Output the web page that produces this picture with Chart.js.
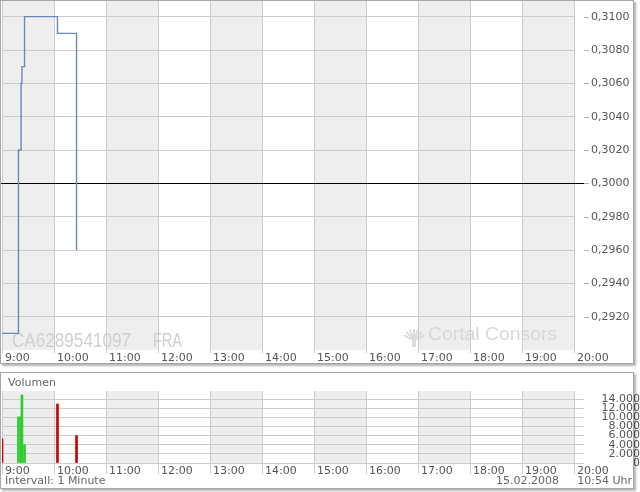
<!DOCTYPE html>
<html><head><meta charset="utf-8">
<script src="https://cdn.jsdelivr.net/npm/chart.js@4/dist/chart.umd.min.js"></script>
<style>
html,body{margin:0;padding:0;background:#fff;width:640px;height:492px;overflow:hidden;font-family:"DejaVu Sans",Verdana,sans-serif;}
canvas{position:absolute;left:0;}
#c1{top:0;} #c2{top:372px;}
.panel{position:absolute;border:1px solid #a6a6a6;box-shadow:2px 2px 2px rgba(0,0,0,0.3);pointer-events:none;}
#p1{left:0;top:0;width:632px;height:362px;}
#p2{left:0;top:372px;width:632px;height:115px;}
.t{position:absolute;font-size:11px;line-height:13px;color:#666;white-space:nowrap;}
</style></head><body>
<canvas id="c1" width="640" height="366"></canvas>
<canvas id="c2" width="640" height="120"></canvas>
<div class="panel" id="p1"></div>
<div class="panel" id="p2"></div>
<div class="t" style="left:8px;top:376px">Volumen</div>
<div class="t" style="left:5px;top:474px">Intervall: 1 Minute</div>
<div class="t" style="right:81px;top:474px">15.02.2008</div>
<div class="t" style="right:8px;top:474px">10:54 Uhr</div>
<script>
// ---- data ----
const hourLabels = ['9:00','10:00','11:00','12:00','13:00','14:00','15:00','16:00','17:00','18:00','19:00','20:00'];
const priceTimes = ['9:00','9:19','9:22','9:23','9:26','10:04','10:26'];
const priceValues = [0.2910, 0.3020, 0.3060, 0.3070, 0.3100, 0.3090, 0.2960];
const volumeValues = [5300, 10100, 10100, 14900, 4000, 12900, 6000];
const prevClose = 0.3000;
const priceTicks = [0.2920, 0.2940, 0.2960, 0.2980, 0.3000, 0.3020, 0.3040, 0.3060, 0.3080, 0.3100];
const volumeTicks = [0, 2000, 4000, 6000, 8000, 10000, 12000, 14000];
const priceRange = [0.2900, 0.3110];
const volumeRange = [0, 15750];
const isin = 'CA6289541097';
const exchange = 'FRA';

// ---- helpers ----
const toMin = s => { const [h, m] = s.split(':').map(Number); return h * 60 + m; };
const hourValues = hourLabels.map(toMin);
const xMin = hourValues[0], xMax = hourValues[hourValues.length - 1];
const fmtDE = v => String(v).replace(/\B(?=(\d{3})+(?!\d))/g, '.');
const GREEN = '#2ecc2e', RED = '#cc0000';
const volumeColors = priceValues.map((p, i) => p >= (i ? priceValues[i - 1] : prevClose) ? GREEN : RED);
const FONT = {family: 'DejaVu Sans', size: 11};
const TXT = '#555555';
const GRID = '#cccccc';

const bands = {
  id: 'bands',
  beforeDraw(chart) {
    const {ctx, chartArea: a, scales: {x}} = chart;
    ctx.save();
    ctx.fillStyle = '#eeeeee';
    for (let i = 0; i < hourValues.length - 1; i += 2) {
      const x0 = x.getPixelForValue(hourValues[i]), x1 = x.getPixelForValue(hourValues[i + 1]);
      ctx.fillRect(x0, a.top, x1 - x0, a.bottom - a.top);
    }
    ctx.restore();
  }
};

function fitText(ctx, text, x, y, width) {
  const w = ctx.measureText(text).width;
  ctx.save();
  ctx.translate(x, y);
  ctx.scale(width / w, 1);
  ctx.fillText(text, 0, 0);
  ctx.restore();
}

const watermark = {
  id: 'watermark',
  beforeDraw(chart) {
    const {ctx} = chart;
    ctx.save();
    ctx.fillStyle = '#d0d0d0';
    ctx.textBaseline = 'alphabetic';
    ctx.font = '20px "Liberation Sans", Arial, sans-serif';
    fitText(ctx, isin, 12, 347, 119);
    fitText(ctx, exchange, 153, 347, 29);
    ctx.fillStyle = '#d8d8d8';
    ctx.font = '19px "Liberation Sans", Arial, sans-serif';
    fitText(ctx, 'Cortal Consors', 428, 340, 129);
    // small logo mark
    ctx.strokeStyle = '#dcdcdc';
    ctx.lineWidth = 2;
    const cx = 414, cy = 333;
    for (let k = -3; k <= 3; k++) {
      const ang = -Math.PI / 2 + k * 0.35;
      ctx.beginPath();
      ctx.moveTo(cx + Math.cos(ang) * 3, cy + 8 + Math.sin(ang) * 3);
      ctx.lineTo(cx + Math.cos(ang) * 12, cy + 8 + Math.sin(ang) * 12);
      ctx.stroke();
    }
    ctx.fillStyle = '#dcdcdc';
    ctx.fillRect(cx - 2, cy + 4, 4, 10);
    ctx.restore();
  }
};

const refLine = {
  id: 'refLine',
  beforeDatasetsDraw(chart) {
    const {ctx, chartArea: a, scales: {y}} = chart;
    ctx.save();
    ctx.lineWidth = 1;
    ctx.strokeStyle = '#b0b0b0';
    for (const v of priceTicks) {
      const p = Math.round(y.getPixelForValue(v)) + 0.5;
      ctx.beginPath(); ctx.moveTo(a.right + 10, p); ctx.lineTo(a.right + 15, p); ctx.stroke();
    }
    const py = Math.round(y.getPixelForValue(prevClose)) + 0.5;
    ctx.strokeStyle = '#000000';
    ctx.beginPath(); ctx.moveTo(0, py); ctx.lineTo(a.right + 10, py); ctx.stroke();
    ctx.restore();
  }
};

const xTickLabel = v => hourLabels[hourValues.indexOf(v)] || '';

new Chart(document.getElementById('c1'), {
  type: 'line',
  data: {datasets: [{
    data: priceTimes.map((t, i) => ({x: toMin(t), y: priceValues[i]})),
    stepped: true, borderColor: '#6f87b8', borderWidth: 1.4, pointRadius: 0, fill: false
  }]},
  options: {
    responsive: false, animation: false, devicePixelRatio: 1,
    layout: {padding: {left: 2, top: 0, right: 0, bottom: 0}},
    plugins: {legend: {display: false}, tooltip: {enabled: false}},
    scales: {
      x: {
        type: 'linear', min: xMin, max: xMax, offset: false, bounds: 'data',
        afterBuildTicks: s => { s.ticks = hourValues.map(v => ({value: v})); },
        afterFit: s => { s.height = 16; s.paddingLeft = 0; s.paddingRight = 0; },
        grid: {color: GRID, drawTicks: true, tickLength: 3, tickColor: GRID},
        border: {display: false},
        ticks: {autoSkip: false, maxRotation: 0, minRotation: 0, align: 'start', labelOffset: 3, padding: -1,
          color: TXT, font: FONT, callback: xTickLabel}
      },
      y: {
        type: 'linear', position: 'right', min: priceRange[0], max: priceRange[1], bounds: 'data',
        afterBuildTicks: s => { s.ticks = priceTicks.map(v => ({value: v})); },
        afterFit: s => { s.width = 66; s.paddingTop = 0; s.paddingBottom = 0; },
        grid: {color: GRID, drawTicks: false},
        border: {display: false},
        ticks: {padding: 17, color: TXT, font: FONT, callback: v => v.toFixed(4).replace('.', ',')}
      }
    }
  },
  plugins: [bands, watermark, refLine]
});

new Chart(document.getElementById('c2'), {
  type: 'bar',
  data: {datasets: [{
    data: priceTimes.map((t, i) => ({x: toMin(t), y: volumeValues[i]})),
    backgroundColor: volumeColors, borderWidth: 0, barThickness: 2
  }]},
  options: {
    responsive: false, animation: false, devicePixelRatio: 1,
    layout: {padding: {left: 2, top: 19, right: 0, bottom: 0}},
    plugins: {legend: {display: false}, tooltip: {enabled: false}},
    scales: {
      x: {
        type: 'linear', min: xMin, max: xMax, offset: false, bounds: 'data',
        afterBuildTicks: s => { s.ticks = hourValues.map(v => ({value: v})); },
        afterFit: s => { s.height = 29; s.paddingLeft = 0; s.paddingRight = 0; },
        grid: {color: GRID, offset: false, drawTicks: true, tickLength: 11, tickColor: GRID},
        border: {display: false},
        ticks: {autoSkip: false, maxRotation: 0, minRotation: 0, align: 'start', labelOffset: 3, padding: -9,
          color: TXT, font: FONT, callback: xTickLabel}
      },
      y: {
        type: 'linear', position: 'right', min: volumeRange[0], max: volumeRange[1], bounds: 'data',
        afterBuildTicks: s => { s.ticks = volumeTicks.map(v => ({value: v})); },
        afterFit: s => { s.width = 66; s.paddingTop = 0; s.paddingBottom = 0; },
        grid: {color: GRID, drawTicks: true, tickLength: 10, tickColor: GRID},
        border: {display: false},
        ticks: {crossAlign: 'far', padding: 4, color: TXT, font: FONT, autoSkip: false, callback: v => fmtDE(v)}
      }
    }
  },
  plugins: [bands]
});
</script>
</body></html>
